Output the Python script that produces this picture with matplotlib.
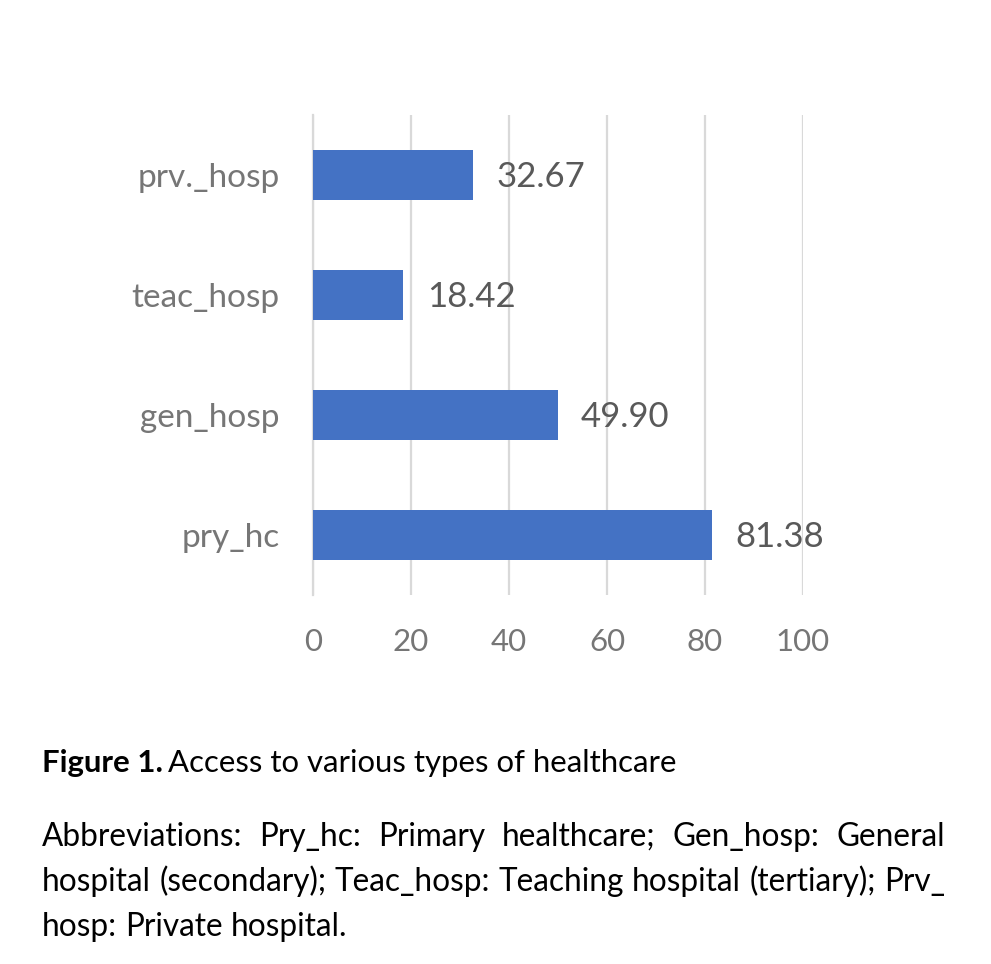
import matplotlib
matplotlib.use("Agg")
import matplotlib.pyplot as plt

plt.rcParams["font.family"] = ["Lato", "DejaVu Sans"]

CATEGORIES = ["pry_hc", "gen_hosp", "teac_hosp", "prv._hosp"]
VALUES = [81.38, 49.90, 18.42, 32.67]
X_TICKS = [0, 20, 40, 60, 80, 100]

CAPTION_BOLD = "Figure 1."
CAPTION_REST = "Access to various types of healthcare"
ABBREV_LINES = [
    "Abbreviations: Pry_hc: Primary healthcare; Gen_hosp: General",
    "hospital (secondary); Teac_hosp: Teaching hospital (tertiary); Prv_",
    "hosp: Private hospital.",
]

W, H = 991, 964
BAR_COLOR = "#4472C4"
GRID_COLOR = "#D9D9D9"
TICK_COLOR = "#767676"
LABEL_COLOR = "#595959"


def px(x, y):
    # pixel coords (top-left origin) -> figure fraction
    return x / W, 1 - y / H


def text_width(fig, t):
    r = fig.canvas.get_renderer()
    return t.get_window_extent(renderer=r).width


def justified_line(fig, words, x0, x1, y, size, justify=True):
    items = [fig.text(0, 0, w, fontsize=size, color="black", va="baseline") for w in words]
    widths = [text_width(fig, t) for t in items]
    space = text_width(fig, fig.text(0, 0, "a a", fontsize=size, alpha=0)) - \
        text_width(fig, fig.text(0, 0, "aa", fontsize=size, alpha=0))
    if justify and len(words) > 1:
        space = (x1 - x0 - sum(widths)) / (len(words) - 1)
    x = x0
    for t, w in zip(items, widths):
        t.set_position(px(x, y))
        x += w + space


def main():
    fig = plt.figure(figsize=(W / 100, H / 100), dpi=100)
    left, right = px(313, 0)[0], px(803, 0)[0]
    bottom, top = px(0, 595)[1], px(0, 115)[1]
    ax = fig.add_axes([left, bottom, right - left, top - bottom])

    ypos = range(len(CATEGORIES))
    ax.barh(ypos, VALUES, height=0.42, color=BAR_COLOR, zorder=3)
    for y, v in zip(ypos, VALUES):
        ax.annotate(f"{v:.2f}", (v, y), xytext=(17, -1.5), textcoords="offset points",
                    va="center", ha="left", fontsize=25, color=LABEL_COLOR)

    ax.set_xlim(0, 100)
    ax.set_ylim(-0.5, len(CATEGORIES) - 0.5)
    ax.set_xticks(X_TICKS)
    ax.set_yticks(list(ypos))
    ax.set_yticklabels(CATEGORIES)
    ax.tick_params(axis="x", length=0, pad=24, labelsize=22.5, labelcolor=TICK_COLOR)
    ax.tick_params(axis="y", length=0, pad=24, labelsize=24, labelcolor=TICK_COLOR)
    ax.grid(axis="x", color=GRID_COLOR, linewidth=1.6, zorder=0)
    for s in ["top", "right", "bottom"]:
        ax.spines[s].set_visible(False)
    ax.spines["left"].set_color(GRID_COLOR)
    ax.spines["left"].set_linewidth(1.6)

    # caption
    fig.canvas.draw()
    cap_size = 22.4
    tb = fig.text(*px(42, 772), CAPTION_BOLD, fontsize=cap_size, fontweight="bold",
                  va="baseline", color="black")
    wb = text_width(fig, tb)
    fig.text(*px(42 + wb + 5, 772), CAPTION_REST, fontsize=cap_size,
             va="baseline", color="black")

    # size the abbreviation block so its second line spans the text width
    probe = fig.text(0, 0, ABBREV_LINES[1], fontsize=20, alpha=0)
    size = 20 * 903 / text_width(fig, probe)
    probe.remove()
    for i, line in enumerate(ABBREV_LINES):
        justified_line(fig, line.split(" "), 42, 945, 846 + 45 * i, size,
                       justify=i < len(ABBREV_LINES) - 1)

    fig.savefig("out.png", dpi=100)


if __name__ == "__main__":
    main()
